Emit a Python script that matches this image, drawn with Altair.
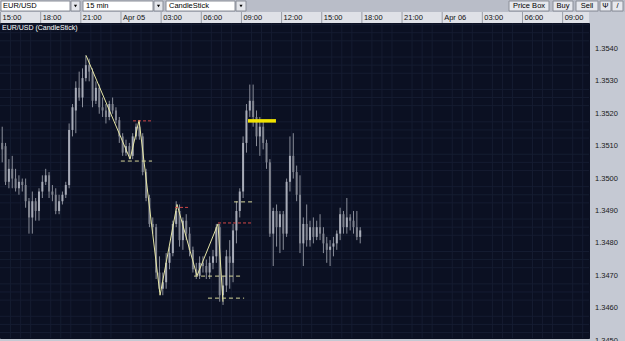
import altair as alt
import pandas as pd

# ---------------- data ----------------
opens = [
    1.3511, 1.3510, 1.3499, 1.3503, 1.3500, 1.3497, 1.3499, 1.3498, 1.3493, 1.3488,
    1.3493, 1.3490, 1.3496, 1.3499, 1.3501, 1.3496, 1.3495, 1.3490, 1.3493, 1.3495,
    1.3498, 1.3515, 1.3521, 1.3528, 1.3525, 1.3531, 1.3535, 1.3533, 1.3524, 1.3528,
    1.3522, 1.3521, 1.3519, 1.3523, 1.3521, 1.3518, 1.3513, 1.3508, 1.3510, 1.3507,
    1.3513, 1.3516, 1.3513, 1.3502, 1.3494, 1.3486, 1.3485, 1.3471, 1.3466, 1.3468,
    1.3474, 1.3477, 1.3486, 1.3490, 1.3481, 1.3487, 1.3483, 1.3478, 1.3472, 1.3470,
    1.3474, 1.3473, 1.3471, 1.3474, 1.3476, 1.3485, 1.3464, 1.3467, 1.3476, 1.3474,
    1.3484, 1.3490, 1.3496, 1.3511, 1.3521, 1.3524, 1.3519, 1.3513, 1.3516, 1.3511,
    1.3505, 1.3483, 1.3490, 1.3485, 1.3489, 1.3483, 1.3499, 1.3507, 1.3502, 1.3495,
    1.3480, 1.3486, 1.3481, 1.3485, 1.3482, 1.3485, 1.3483, 1.3480, 1.3478, 1.3479,
    1.3480, 1.3483, 1.3489, 1.3485, 1.3488, 1.3487, 1.3485, 1.3482,
]
closes = [
    1.3509, 1.3499, 1.3503, 1.3500, 1.3497, 1.3499, 1.3498, 1.3493, 1.3488, 1.3493,
    1.3490, 1.3496, 1.3499, 1.3501, 1.3496, 1.3495, 1.3490, 1.3493, 1.3495, 1.3498,
    1.3515, 1.3522, 1.3528, 1.3525, 1.3531, 1.3535, 1.3533, 1.3524, 1.3528, 1.3522,
    1.3521, 1.3519, 1.3523, 1.3521, 1.3518, 1.3513, 1.3508, 1.3510, 1.3507, 1.3513,
    1.3516, 1.3513, 1.3502, 1.3494, 1.3486, 1.3485, 1.3471, 1.3466, 1.3468, 1.3474,
    1.3477, 1.3486, 1.3490, 1.3481, 1.3487, 1.3483, 1.3478, 1.3472, 1.3470, 1.3474,
    1.3473, 1.3471, 1.3474, 1.3476, 1.3485, 1.3464, 1.3467, 1.3476, 1.3474, 1.3484,
    1.3490, 1.3496, 1.3511, 1.3521, 1.3524, 1.3519, 1.3513, 1.3516, 1.3511, 1.3505,
    1.3483, 1.3490, 1.3485, 1.3489, 1.3483, 1.3499, 1.3507, 1.3502, 1.3495, 1.3480,
    1.3486, 1.3481, 1.3485, 1.3482, 1.3485, 1.3483, 1.3480, 1.3478, 1.3479, 1.3480,
    1.3483, 1.3489, 1.3485, 1.3488, 1.3487, 1.3485, 1.3482, 1.3484,
]
highs = [
    1.3516, 1.3511, 1.3506, 1.3507, 1.3503, 1.3501, 1.3500, 1.3500, 1.3494, 1.3496,
    1.3494, 1.3497, 1.3501, 1.3503, 1.3502, 1.3498, 1.3497, 1.3495, 1.3496, 1.3499,
    1.3517, 1.3523, 1.3530, 1.3533, 1.3534, 1.3538, 1.3537, 1.3534, 1.3530, 1.3529,
    1.3525, 1.3523, 1.3524, 1.3525, 1.3522, 1.3519, 1.3514, 1.3512, 1.3511, 1.3514,
    1.3517, 1.3518, 1.3514, 1.3503, 1.3495, 1.3488, 1.3486, 1.3476, 1.3471, 1.3477,
    1.3479, 1.3487, 1.3493, 1.3492, 1.3488, 1.3489, 1.3485, 1.3479, 1.3474, 1.3476,
    1.3476, 1.3475, 1.3476, 1.3478, 1.3486, 1.3486, 1.3470, 1.3478, 1.3481, 1.3486,
    1.3493, 1.3497, 1.3513, 1.3523, 1.3529, 1.3529, 1.3521, 1.3519, 1.3518, 1.3512,
    1.3506, 1.3491, 1.3492, 1.3490, 1.3490, 1.3500, 1.3513, 1.3514, 1.3504, 1.3501,
    1.3488, 1.3492, 1.3487, 1.3488, 1.3487, 1.3489, 1.3485, 1.3482, 1.3481, 1.3482,
    1.3484, 1.3491, 1.3490, 1.3494, 1.3489, 1.3490, 1.3490, 1.3485,
]
lows = [
    1.3505, 1.3498, 1.3497, 1.3497, 1.3496, 1.3495, 1.3496, 1.3491, 1.3483, 1.3483,
    1.3487, 1.3487, 1.3494, 1.3498, 1.3494, 1.3493, 1.3489, 1.3489, 1.3492, 1.3494,
    1.3497, 1.3513, 1.3514, 1.3524, 1.3522, 1.3530, 1.3530, 1.3522, 1.3523, 1.3520,
    1.3519, 1.3517, 1.3518, 1.3520, 1.3517, 1.3511, 1.3507, 1.3507, 1.3506, 1.3506,
    1.3512, 1.3512, 1.3501, 1.3493, 1.3485, 1.3483, 1.3469, 1.3465, 1.3464, 1.3466,
    1.3472, 1.3476, 1.3485, 1.3479, 1.3478, 1.3481, 1.3476, 1.3471, 1.3469, 1.3469,
    1.3471, 1.3469, 1.3469, 1.3472, 1.3474, 1.3462, 1.3461, 1.3465, 1.3466, 1.3468,
    1.3480, 1.3488, 1.3494, 1.3508, 1.3519, 1.3516, 1.3510, 1.3507, 1.3509, 1.3503,
    1.3482, 1.3473, 1.3479, 1.3477, 1.3478, 1.3482, 1.3496, 1.3500, 1.3493, 1.3477,
    1.3473, 1.3479, 1.3479, 1.3480, 1.3481, 1.3481, 1.3477, 1.3474, 1.3473, 1.3476,
    1.3478, 1.3481, 1.3483, 1.3483, 1.3484, 1.3483, 1.3481, 1.3480,
]
# candle centres, in hours after 15:00 (15-minute bars)
times = [i * 0.25 + 0.125 for i in range(len(opens))]

# zig-zag drawing tool
zig_t = [6.39, 9.68, 10.35, 11.92, 13.19, 14.68, 16.25, 16.62]
zig_p = [1.3538, 1.3506, 1.3518, 1.3464, 1.3492, 1.3470, 1.3486, 1.3462]

# dashed level segments
ydash_t1 = [8.99, 14.46, 15.50, 17.45]
ydash_t2 = [11.32, 18.05, 18.20, 18.94]
ydash_p = [1.35054, 1.34699, 1.34631, 1.34928]
rdash_t1 = [9.90, 13.04, 16.25]
rdash_t2 = [11.40, 14.16, 18.79]
rdash_p = [1.35178, 1.34911, 1.34863]
thick_t1 = [18.49]
thick_t2 = [20.58]
thick_p = [1.35178]

# axes
time_ticks = [0, 3, 6, 9, 12, 15, 18, 21, 24, 27, 30, 33, 36, 39, 42]
time_labels = ["15:00", "18:00", "21:00", "Apr 05", "03:00", "06:00", "09:00", "12:00",
               "15:00", "18:00", "21:00", "Apr 06", "03:00", "06:00", "09:00"]
price_ticks = [1.3450, 1.3460, 1.3470, 1.3480, 1.3490, 1.3500, 1.3510, 1.3520, 1.3530, 1.3540]
price_labels = ["1.3450", "1.3460", "1.3470", "1.3480", "1.3490",
                "1.3500", "1.3510", "1.3520", "1.3530", "1.3540"]
minor_t = [k * 0.75 for k in range(0, 59) if k % 4 != 0]
minor_p = [1.3450 + k * 0.00025 for k in range(0, 40) if k % 4 != 0]

# ---------------- styling ----------------
W, H = 589, 315
PLOT_BG = "#0b1022"
MAJOR = "#263049"
MINOR = "#151c31"
PANEL = "#c5c9d3"
FONT = "Liberation Sans"

xs = alt.Scale(domain=[-0.04, 43.97], nice=False, zero=False, padding=0)
ys = alt.Scale(domain=[1.34508, 1.35480], nice=False, zero=False, padding=0)

candles = pd.DataFrame({"t": times, "open": opens, "close": closes, "high": highs, "low": lows})
dummy = pd.DataFrame({"a": [0]})

minor_v = alt.Chart(pd.DataFrame({"t": minor_t})).mark_rule(color=MINOR, strokeWidth=1).encode(
    x=alt.X("t:Q", scale=xs, axis=None), y=alt.value(0), y2=alt.value(H))
minor_h = alt.Chart(pd.DataFrame({"p": minor_p})).mark_rule(color=MINOR, strokeWidth=1).encode(
    y=alt.Y("p:Q", scale=ys, axis=None), x=alt.value(0), x2=alt.value(W))

wick = alt.Chart(candles).mark_rule(color="#8a8e9a", strokeWidth=1).encode(
    x=alt.X("t:Q", scale=xs, axis=alt.Axis(values=time_ticks, labels=False, ticks=False, domain=False,
                                          grid=True, gridColor=MAJOR, gridOpacity=1, title="")),
    y=alt.Y("low:Q", scale=ys, axis=alt.Axis(orient="right", values=price_ticks, labels=False,
                                             ticks=False, domain=False, grid=True,
                                             gridColor=MAJOR, gridOpacity=1, title="")),
    y2="high:Q",
)
body = alt.Chart(candles).mark_bar(size=2).encode(
    x=alt.X("t:Q", scale=xs, axis=None),
    y=alt.Y("open:Q", scale=ys, axis=None),
    y2="close:Q",
    color=alt.condition("datum.close >= datum.open", alt.value("#a8acb8"), alt.value("#80848f")),
)

zig = alt.Chart(pd.DataFrame({"t": zig_t, "p": zig_p, "o": list(range(len(zig_t)))})).mark_line(
    color="#e6e6a6", strokeWidth=1).encode(
    x=alt.X("t:Q", scale=xs, axis=None), y=alt.Y("p:Q", scale=ys, axis=None), order="o:Q")

ydash = alt.Chart(pd.DataFrame({"t1": ydash_t1, "t2": ydash_t2, "p": ydash_p})).mark_rule(
    color="#d6d69a", strokeWidth=1, strokeDash=[4, 3]).encode(
    x=alt.X("t1:Q", scale=xs, axis=None), x2="t2:Q", y=alt.Y("p:Q", scale=ys, axis=None))
rdash = alt.Chart(pd.DataFrame({"t1": rdash_t1, "t2": rdash_t2, "p": rdash_p})).mark_rule(
    color="#d04848", strokeWidth=1, strokeDash=[3, 2]).encode(
    x=alt.X("t1:Q", scale=xs, axis=None), x2="t2:Q", y=alt.Y("p:Q", scale=ys, axis=None))
thick = alt.Chart(pd.DataFrame({"t1": thick_t1, "t2": thick_t2, "p": thick_p})).mark_rule(
    color="#f2e400", strokeWidth=3.5).encode(
    x=alt.X("t1:Q", scale=xs, axis=None), x2="t2:Q", y=alt.Y("p:Q", scale=ys, axis=None))

plabels = alt.Chart(pd.DataFrame({"p": price_ticks, "lab": price_labels})).mark_text(
    font=FONT, fontSize=7.5, color="#1a1a1a", align="left", baseline="middle").encode(
    x=alt.value(W + 6), y=alt.Y("p:Q", scale=ys, axis=None), text="lab:N")


def box(x1, x2, y1, y2, fill, stroke=None):
    kw = dict(fill=fill)
    if stroke:
        kw.update(stroke=stroke, strokeWidth=1)
    return alt.Chart(dummy).mark_rect(**kw).encode(
        x=alt.value(x1), x2=alt.value(x2), y=alt.value(y1), y2=alt.value(y2))


def label(x, y, text, size=7.5, color="#000000", align="left", weight="normal"):
    return alt.Chart(dummy).mark_text(text=text, font=FONT, fontSize=size, color=color, align=align,
                                      baseline="middle", fontWeight=weight).encode(
        x=alt.value(x), y=alt.value(y))


def arrow(x, y):
    return alt.Chart(dummy).mark_point(shape="triangle-down", filled=True, size=10, color="#000000",
                                       opacity=1).encode(x=alt.value(x), y=alt.value(y))


chrome = [
    box(0, 625, -23, -11, "#b9bdc8"),
    box(0, W, -11, 0, "#dfe1e7"),
    box(1, 70, -22, -12, "#ffffff", "#8a8e98"),
    box(71, 80, -22, -12, "#e4e6eb", "#8a8e98"), arrow(75.5, -17),
    box(83, 153, -22, -12, "#ffffff", "#8a8e98"),
    box(154, 163, -22, -12, "#e4e6eb", "#8a8e98"), arrow(158.5, -17),
    box(166, 235, -22, -12, "#ffffff", "#8a8e98"),
    box(236, 246, -22, -12, "#e4e6eb", "#8a8e98"), arrow(241, -17),
    label(3, -17, "EUR/USD"), label(86, -17, "15 min"), label(169, -17, "CandleStick"),
    box(509, 549, -22, -12, "#e6e8ee", "#8a8e98"), label(529, -17, "Price Box", align="center"),
    box(553, 573, -22, -12, "#e6e8ee", "#8a8e98"), label(563, -17, "Buy", align="center"),
    box(576, 598, -22, -12, "#e6e8ee", "#8a8e98"), label(587, -17, "Sell", align="center"),
    box(600, 611, -22, -12, "#e6e8ee", "#8a8e98"), label(605.5, -17, "Ψ", align="center"),
    box(612, 623, -22, -12, "#e6e8ee", "#8a8e98"), label(617.5, -17, "/", align="center"),
]

tdf = pd.DataFrame({"t": time_ticks, "lab": time_labels})
seps = alt.Chart(tdf).mark_rule(color="#9a9ea8", strokeWidth=1).encode(
    x=alt.X("t:Q", scale=xs, axis=None), y=alt.value(-11), y2=alt.value(0))
tlabels = alt.Chart(tdf).mark_text(font=FONT, fontSize=7.5, color="#111111", align="left",
                                   baseline="middle", dx=2).encode(
    x=alt.X("t:Q", scale=xs, axis=None), y=alt.value(-5.5), text="lab:N")

title_txt = label(2, 4.5, "EUR/USD (CandleStick)", size=7, color="#ffffff")

chart = alt.layer(
    minor_v, minor_h, wick, body, zig, ydash, rdash, thick, title_txt, plabels,
    *chrome, seps, tlabels,
).properties(
    width=W, height=H,
    padding={"top": 23, "left": 0, "right": 36, "bottom": 3},
    autosize="none",
    background=PANEL,
).configure_view(fill=PLOT_BG, stroke=PLOT_BG)

chart.save("out.html", embed_options={"renderer": "svg", "actions": False})
